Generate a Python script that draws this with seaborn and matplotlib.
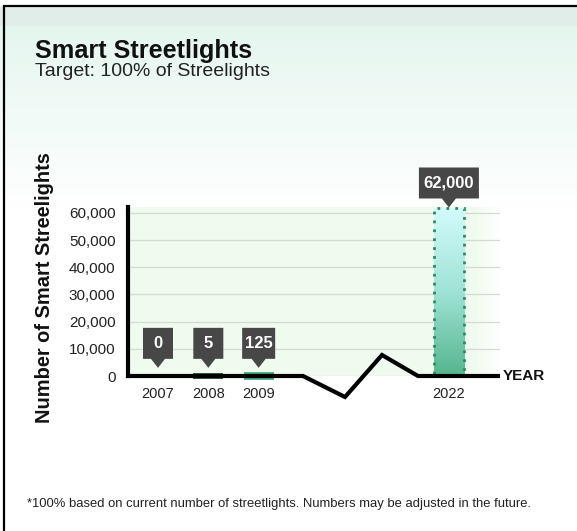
import numpy as np
import pandas as pd
import matplotlib
matplotlib.use("Agg")
import matplotlib.pyplot as plt
import matplotlib.transforms as mtransforms
from matplotlib.patches import Polygon
from matplotlib.colors import to_rgb
import seaborn as sns

# ---- data ----
years = ["2007", "2008", "2009", "2022"]
streetlights = [0, 5, 125, 62000]
value_labels = ["0", "5", "125", "62,000"]
y_ticks = [0, 10000, 20000, 30000, 40000, 50000, 60000]
y_tick_labels = ["0", "10,000", "20,000", "30,000", "40,000", "50,000", "60,000"]

# horizontal slot of each year on the broken time axis
slots = [0, 1, 2, 5.78]

sns.set_theme(style="white")
plt.rcParams["font.family"] = ["Liberation Sans", "DejaVu Sans"]

W, H = 577, 531
fig = plt.figure(figsize=(W / 100, H / 100), dpi=100)

# ---- page background: mint header band fading to white ----
bg = fig.add_axes([0, 0, 1, 1], zorder=-10)
bg.set_axis_off()
rows = np.ones((H, 1, 3))
band = np.array(to_rgb("#e1ede8"))
top = np.array(to_rgb("#e5f6ef"))
white = np.ones(3)
for r in range(H):
    if 6 <= r < 26:
        rows[r, 0] = band
    elif 26 <= r < 210:
        t = (r - 26) / (210 - 26)
        rows[r, 0] = top * (1 - t) + white * t
bg.imshow(rows, extent=[0, 1, 0, 1], aspect="auto", transform=bg.transAxes)
bg.set_xlim(0, 1)
bg.set_ylim(0, 1)
# frame on top and left
bg.plot([3 / W, 1], [1 - 5.5 / H, 1 - 5.5 / H], color="black", lw=1.6, solid_capstyle="butt")
bg.plot([4 / W, 4 / W], [0, 1 - 5 / H], color="black", lw=1.6, solid_capstyle="butt")

# ---- titles and notes ----
fig.text(35 / W, 1 - 58 / H, "Smart Streetlights", fontsize=18.2, fontweight="bold",
         color="#111111", va="baseline", ha="left")
fig.text(35 / W, 1 - 76 / H, "Target: 100% of Streelights", fontsize=14,
         color="#222222", va="baseline", ha="left")
fig.text(27 / W, 1 - 507 / H,
         "*100% based on current number of streetlights. Numbers may be adjusted in the future.",
         fontsize=9.4, color="#222222", va="baseline", ha="left")
fig.text(45 / W, 1 - 288 / H, "Number of Smart Streelights", rotation=90,
         fontsize=14.4, fontweight="bold", color="#111111", va="center", ha="center")

# ---- plot area ----
x0, x1, yb, yt = 128, 500, 376, 207
ax = fig.add_axes([x0 / W, 1 - yb / H, (x1 - x0) / W, (yb - yt) / H])
ax.patch.set_alpha(0)

# pale green panel that fades out at the right edge
green = np.array(to_rgb("#eefbee"))
ncol = x1 - x0
panel = np.ones((1, ncol, 4))
panel[0, :, :3] = green
fade = np.clip((ncol - np.arange(ncol)) / 28.0, 0, 1)
panel[0, :, 3] = fade
ax.imshow(panel, extent=[0, 1, 0, 1], aspect="auto", transform=ax.transAxes, zorder=0)

df = pd.DataFrame({"slot": slots, "count": streetlights, "year": years})
bar_colors = {"2007": "#3aa57a", "2008": "#2c4a3b", "2009": "#3aa57a", "2022": "none"}
sns.barplot(data=df, x="slot", y="count", hue="year", palette=bar_colors,
            native_scale=True, width=0.6, errorbar=None, legend=False,
            dodge=False, ax=ax, zorder=2)

xmin = -0.596
xmax = xmin + (x1 - x0) / 50.33
ymax = 62000 * (yb - yt) / (yb - yt - 0.5)

for patch in ax.patches:
    cx = patch.get_x() + patch.get_width() / 2
    i = int(np.argmin([abs(cx - s) for s in slots]))
    yr = years[i]
    if yr == "2022":
        patch.set_facecolor("none")
        patch.set_edgecolor("#2f8a62")
        patch.set_linestyle((0, (1, 2.2)))
        patch.set_linewidth(2)
        patch.set_zorder(3)
        grad = np.zeros((100, 1, 3))
        c_top = np.array(to_rgb("#d3fbfb"))
        c_mid = np.array(to_rgb("#9fe3d6"))
        c_bot = np.array(to_rgb("#56b58e"))
        for r in range(100):
            t = r / 99
            if t < 0.5:
                grad[r, 0] = c_top * (1 - 2 * t) + c_mid * (2 * t)
            else:
                grad[r, 0] = c_mid * (2 - 2 * t) + c_bot * (2 * t - 1)
        im = ax.imshow(grad, extent=[patch.get_x(), patch.get_x() + patch.get_width(),
                                     0, patch.get_height()],
                       aspect="auto", zorder=2.5)
        im.set_clip_path(patch)
    elif yr == "2009":
        patch.set_edgecolor("#3aa57a")
        patch.set_linewidth(5.5)
        patch.set_joinstyle("miter")
        patch.set_clip_on(False)
    elif yr == "2008":
        patch.set_edgecolor("#2c4a3b")
        patch.set_linewidth(4.2)
        patch.set_joinstyle("miter")
        patch.set_clip_on(False)
    else:
        patch.set_linewidth(0)

ax.set_xlim(xmin, xmax)
ax.set_ylim(0, ymax)

# gridlines and tick labels
ax.set_yticks(y_ticks)
ax.set_yticklabels(y_tick_labels)
ax.yaxis.grid(True, color="#d3dbd3", lw=0.9)
ax.xaxis.grid(False)
ax.set_axisbelow(True)
ax.set_xticks(slots)
ax.set_xticklabels(years)
ax.set_xticks([0.5, 1.5, 2.5, slots[3] + 0.5], minor=True)
ax.tick_params(axis="y", length=0, pad=9, labelsize=11, labelcolor="#222222")
ax.tick_params(axis="x", which="major", length=0, pad=8, labelsize=10.5, labelcolor="#222222")
ax.tick_params(axis="x", which="minor", length=6, width=1, color="#dddddd", direction="out")
ax.set_xlabel("")
ax.set_ylabel("")

for side in ["top", "right", "bottom"]:
    ax.spines[side].set_visible(False)
ax.spines["left"].set_color("black")
ax.spines["left"].set_linewidth(3)
ax.spines["left"].set_zorder(5)

# time axis with a zigzag break between 2009 and 2022
dz = 21 / (yb - yt)
bx = [-0.004, (303 - x0) / ncol, (345 - x0) / ncol, (382 - x0) / ncol, (418 - x0) / ncol, 1.0]
by = [0, 0, -dz, dz, 0, 0]
ax.plot(bx, by, transform=ax.transAxes, color="black", lw=3, clip_on=False,
        solid_joinstyle="miter", solid_capstyle="butt", zorder=6)
ax.text(1.0 + 3 / ncol, 0, "YEAR", transform=ax.transAxes, fontsize=11,
        fontweight="bold", color="#111111", va="center", ha="left")

# value callouts: dark box with a downward pointer
box_w = [30, 30, 33, 60]
box_h = 31
gap = 9
for s, v, lab, w in zip(slots, streetlights, value_labels, box_w):
    anchor = max(v, 3000)
    trans = fig.dpi_scale_trans + mtransforms.ScaledTranslation(s, anchor, ax.transData)
    hw = w / 2
    verts = np.array([
        (-hw, gap + box_h), (hw, gap + box_h), (hw, gap), (7, gap),
        (0, 0), (-7, gap), (-hw, gap)
    ]) / 100.0
    ax.add_patch(Polygon(verts, closed=True, facecolor="#474747", edgecolor="none",
                         transform=trans, clip_on=False, zorder=7))
    ax.text(0, (gap + box_h / 2) / 100.0, lab, transform=trans, color="white",
            fontsize=12, fontweight="bold", ha="center", va="center", zorder=8)

fig.savefig("out.png", dpi=100)
